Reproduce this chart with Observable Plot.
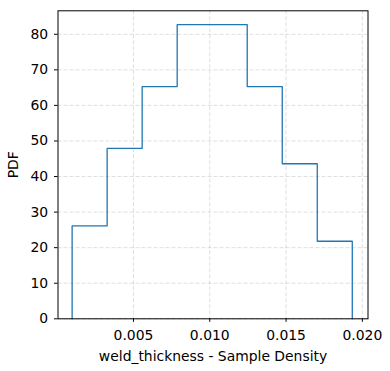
<!DOCTYPE html>
<html>
<head>
<meta charset="utf-8">
<script src="https://cdn.jsdelivr.net/npm/d3@7"></script>
<script src="https://cdn.jsdelivr.net/npm/@observablehq/plot@0.6"></script>
<style>
  html, body { margin: 0; padding: 0; background: #fff; }
  #chart svg { display: block; }
</style>
</head>
<body>
<div id="chart"></div>
<script>
// Histogram bin edges (weld_thickness) and sample density heights (PDF)
const binEdges = [0.00098, 0.003275, 0.00557, 0.007865, 0.01016, 0.012455, 0.01475, 0.017045, 0.01934];
const densities = [26.1, 47.9, 65.3, 82.7, 82.7, 65.3, 43.6, 21.8];
const xTicks = [0.005, 0.010, 0.015, 0.020];
const yTicks = [0, 10, 20, 30, 40, 50, 60, 70, 80];
const xLabel = "weld_thickness - Sample Density";
const yLabel = "PDF";

// step outline points: start at baseline, each bin's left edge at its height, end at baseline
const outline = [{x: binEdges[0], y: 0}];
densities.forEach((d, i) => outline.push({x: binEdges[i], y: d}));
outline.push({x: binEdges[binEdges.length - 1], y: 0});

const font = "DejaVu Sans";
const fs = 13.9;
const chart = Plot.plot({
  width: 390,
  height: 371,
  marginLeft: 57.5,
  marginRight: 22.5,
  marginTop: 10.3,
  marginBottom: 52.7,
  style: {fontFamily: font, fontSize: fs + "px", color: "#000", background: "#fff"},
  x: {domain: [0.000054, 0.02037]},
  y: {domain: [0, 86.6]},
  marks: [
    Plot.gridX(xTicks, {stroke: "#b0b0b0", strokeOpacity: 0.5, strokeDasharray: "4,2", strokeWidth: 0.8}),
    Plot.gridY(yTicks, {stroke: "#b0b0b0", strokeOpacity: 0.5, strokeDasharray: "4,2", strokeWidth: 0.8}),
    Plot.line(outline, {x: "x", y: "y", curve: "step-after", stroke: "#1f77b4", strokeWidth: 1.3}),
    Plot.frame({stroke: "#000", strokeWidth: 1}),
    Plot.axisX(xTicks, {
      tickFormat: d3.format(".3f"), tickSize: 3.5, tickPadding: 7.5,
      label: xLabel, labelAnchor: "center", labelArrow: "none", labelOffset: 42,
      fontSize: fs, fontFamily: font
    }),
    Plot.axisY(yTicks, {
      tickSize: 3.5, tickPadding: 6.3,
      label: yLabel, labelAnchor: "center", labelArrow: "none", labelOffset: 50,
      fontSize: fs, fontFamily: font
    })
  ]
});
document.getElementById("chart").appendChild(chart);
</script>
</body>
</html>
